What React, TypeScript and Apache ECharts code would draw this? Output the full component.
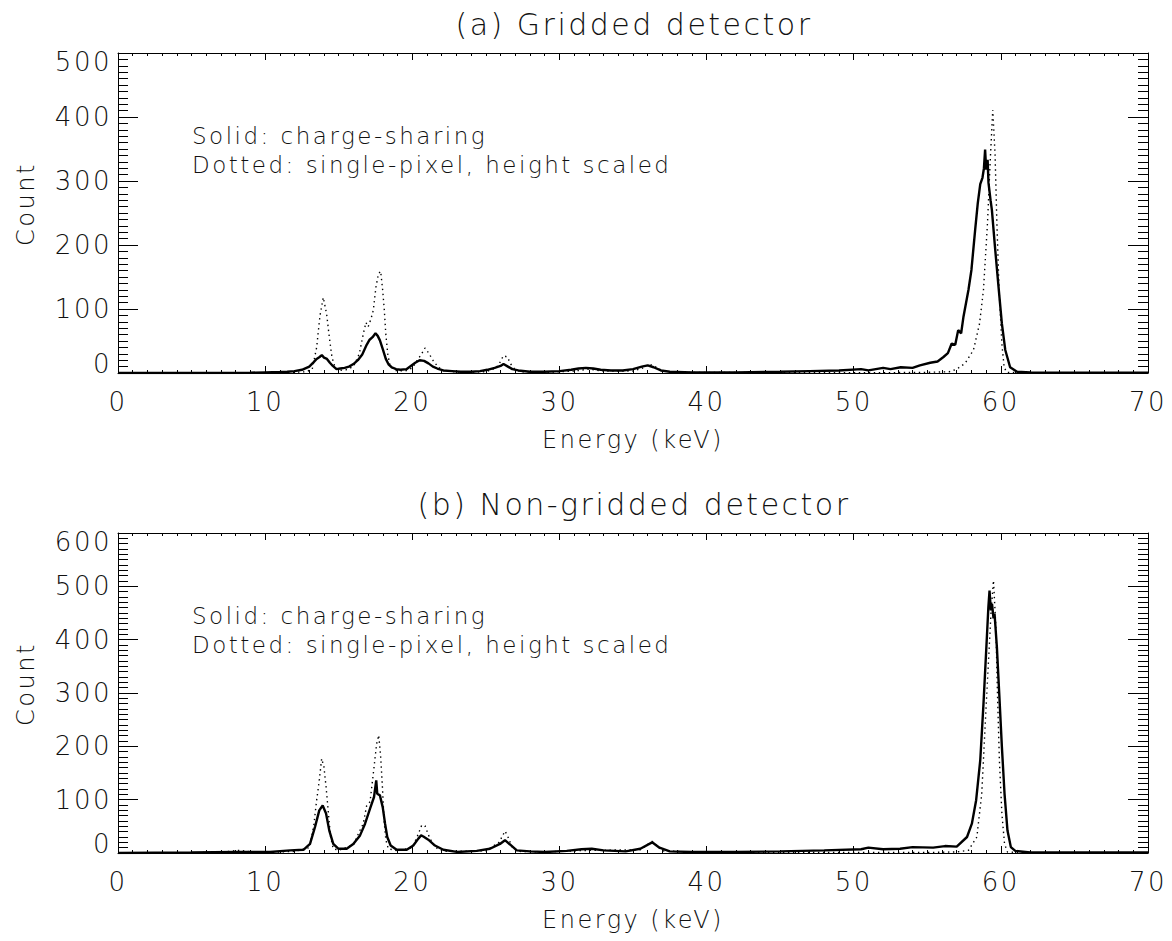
import React, { useEffect, useRef } from "react";
import * as echarts from "echarts";

// ---------- Data ----------
// Panel (a) Gridded detector
const topSolidEnergy = [0, 5, 9, 10, 11, 11.5, 12, 12.5, 13, 13.3, 13.5, 13.7, 13.85, 14.0, 14.2, 14.4, 14.6, 14.85, 15.1, 15.4, 15.7, 16.0, 16.3, 16.6, 16.9, 17.1, 17.3, 17.5, 17.65, 17.8, 18.0, 18.2, 18.4, 18.6, 18.9, 19.2, 19.6, 19.9, 20.2, 20.5, 20.8, 21.1, 21.4, 21.7, 22.1, 22.7, 23.3, 24.0, 24.6, 25.1, 25.6, 26.0, 26.2, 26.5, 26.8, 27.2, 28.0, 29.0, 30.0, 30.8, 31.3, 31.8, 32.3, 32.8, 33.5, 34.3, 35.0, 35.6, 36.0, 36.4, 36.9, 37.5, 39.0, 42.0, 45.0, 47.0, 49.0, 50.5, 51.0, 52.0, 52.5, 53.2, 54.0, 54.5, 55.2, 55.7, 56.1, 56.4, 56.66, 56.9, 57.1, 57.3, 57.46, 57.8, 58.0, 58.25, 58.43, 58.6, 58.75, 58.85, 58.93, 59.0, 59.1, 59.16, 59.3, 59.39, 59.6, 59.84, 60.07, 60.3, 60.63, 61.1, 62, 65, 70];
const topSolidCount = [0, 0, 0.5, 1, 1.5, 2, 3, 5, 10, 17, 22, 25, 28, 24, 22, 16, 11, 6, 7, 8, 10, 14, 20, 29, 44, 52, 56, 62, 58, 51, 37, 22, 13, 9, 6, 5, 6, 11, 16, 20, 19, 15, 10, 7, 4, 3, 2, 2, 3, 5, 8, 11, 14, 10, 6, 4, 2, 2, 3, 5, 7, 8, 7, 5, 4, 4, 6, 10, 12, 9, 4, 2, 1, 1, 2, 3, 4, 6, 4, 8, 6, 9, 8, 12, 16, 18, 25, 31, 46, 44, 67, 62, 88, 130, 161, 223, 265, 295, 305, 320, 349, 318, 333, 297, 270, 255, 197, 135, 77, 36, 9, 2, 1, 0.5, 0.5];
const topDottedEnergy = [0, 10, 12, 12.8, 13.2, 13.5, 13.73, 13.95, 14.18, 14.36, 14.54, 14.75, 15.0, 15.5, 16.0, 16.4, 16.67, 16.85, 17.0, 17.2, 17.35, 17.53, 17.7, 17.85, 17.99, 18.1, 18.2, 18.33, 18.49, 18.8, 19.5, 20.0, 20.4, 20.64, 20.86, 21.09, 21.43, 21.77, 22.2, 23.5, 25.0, 25.7, 26.0, 26.19, 26.46, 26.69, 27.0, 27.5, 29.0, 31.0, 32.0, 33.0, 35.0, 35.7, 36.1, 36.5, 37.0, 38, 45, 52, 55, 56.5, 57.0, 57.57, 58.14, 58.55, 58.82, 59.09, 59.27, 59.45, 59.61, 59.73, 59.88, 60.07, 60.22, 60.4, 62, 70];
const topDottedCount = [0, 0.5, 1, 2, 6, 40, 90, 118, 92, 56, 25, 9, 4, 5, 10, 30, 61, 79, 72, 85, 98, 134, 155, 159, 129, 98, 61, 30, 11, 4, 3, 8, 22, 30, 39, 32, 19, 9, 3, 1, 2, 8, 18, 27, 25, 14, 5, 2, 1, 3, 6, 3, 3, 8, 14, 10, 3, 1, 0.5, 0.5, 1, 2, 6, 15, 36, 77, 130, 234, 328, 411, 339, 234, 130, 46, 9, 1, 0, 0];

// Panel (b) Non-gridded detector
const botSolidEnergy = [0, 5, 8, 10, 10.33, 11.7, 12.6, 13.05, 13.39, 13.68, 13.91, 14.14, 14.36, 14.63, 14.97, 15.54, 15.99, 16.45, 16.79, 17.13, 17.4, 17.55, 17.62, 17.8, 17.99, 18.15, 18.3, 18.53, 18.94, 19.62, 20.07, 20.41, 20.6, 20.75, 21.09, 21.54, 22.11, 23.02, 24.38, 25.28, 25.96, 26.3, 26.64, 27.1, 28.0, 29.0, 30.5, 31.5, 32.2, 33.0, 34.5, 35.5, 36.3, 36.8, 37.5, 39, 42, 45, 48, 50.5, 51, 52, 53.15, 54, 55.4, 56.2, 57.0, 57.7, 58.03, 58.32, 58.6, 58.82, 59.05, 59.15, 59.23, 59.32, 59.4, 59.5, 59.57, 59.73, 59.89, 60.07, 60.25, 60.45, 60.68, 60.98, 62, 70];
const botSolidCount = [0, 1, 2, 2, 2, 5, 6, 17, 49, 80, 89, 74, 42, 17, 8, 8, 17, 33, 55, 83, 105, 136, 111, 108, 86, 55, 30, 14, 6, 6, 14, 27, 33, 31, 25, 14, 6, 2, 4, 8, 17, 24, 16, 5, 3, 2, 4, 7, 8, 5, 3, 8, 20, 10, 3, 2, 2, 3, 5, 7, 10, 7, 8, 11, 10, 13, 12, 30, 55, 99, 174, 280, 405, 460, 492, 455, 467, 440, 449, 386, 299, 199, 111, 42, 11, 4, 1, 1];
const botDottedEnergy = [0, 7, 7.8, 8.3, 9, 10, 12, 13.0, 13.3, 13.5, 13.68, 13.84, 14.0, 14.14, 14.3, 14.45, 14.63, 15.0, 16.0, 16.4, 16.67, 16.9, 17.13, 17.4, 17.58, 17.72, 17.85, 17.97, 18.08, 18.21, 18.37, 19.0, 20.0, 20.4, 20.64, 20.86, 21.2, 21.6, 22.2, 25.0, 25.9, 26.3, 26.46, 26.8, 27.3, 29, 32, 35.5, 36.3, 37, 40, 50, 55, 57.0, 57.8, 58.37, 58.7, 58.93, 59.16, 59.34, 59.5, 59.66, 59.77, 59.9, 60.07, 60.25, 60.45, 62, 70];
const botDottedCount = [0, 1, 4, 5, 2, 1, 3, 10, 50, 99, 136, 177, 161, 124, 74, 30, 8, 5, 15, 40, 55, 89, 96, 161, 205, 221, 180, 124, 61, 24, 8, 4, 10, 35, 52, 51, 27, 10, 3, 4, 20, 41, 33, 10, 3, 2, 5, 6, 22, 4, 1, 1, 1, 2, 5, 30, 111, 236, 361, 455, 511, 424, 299, 174, 74, 17, 2, 0, 0];

const titles = ["(a) Gridded detector", "(b) Non-gridded detector"];
const legendLines = ["Solid: charge-sharing", "Dotted: single-pixel, height scaled"];
const xRange = [0, 70];
const yMaxes = [500, 600];

const pairs = (xs: number[], ys: number[]) => xs.map((x, i) => [x, ys[i]]);

const FONT = "'DejaVu Sans', sans-serif";
const FW = 200;
const TXT = "#111";

export default function App() {
  const ref = useRef<HTMLDivElement>(null);
  useEffect(() => {
    if (!ref.current) return;
    const chart = echarts.init(ref.current, undefined, { renderer: "svg" });
    const gridTops = [53, 533];
    const gridH = 320;
    const grids = gridTops.map((t) => ({ left: 118, top: t, width: 1030, height: gridH }));

    const xAxes: any[] = [];
    const yAxes: any[] = [];
    [0, 1].forEach((g) => {
      const baseX = {
        type: "value",
        gridIndex: g,
        min: xRange[0],
        max: xRange[1],
        interval: 10,
        splitLine: { show: false },
        axisLine: { show: true, onZero: false, lineStyle: { color: "#000", width: 1 } },
        axisTick: { show: true, inside: true, length: 7, lineStyle: { color: "#000" } },
        minorTick: { show: true, splitNumber: 10, length: 3, lineStyle: { color: "#000" } },
      };
      xAxes.push({
        ...baseX,
        position: "bottom",
        name: "Energy (keV)",
        nameLocation: "middle",
        nameGap: 55,
        nameTextStyle: { fontFamily: FONT, fontSize: 24, fontWeight: FW, color: TXT },
        axisLabel: { show: true, margin: 16, fontFamily: FONT, fontSize: 26, fontWeight: FW, color: TXT },
      });
      xAxes.push({ ...baseX, position: "top", axisLabel: { show: false } });
      const baseY = {
        type: "value",
        gridIndex: g,
        min: 0,
        max: yMaxes[g],
        interval: 100,
        splitLine: { show: false },
        axisLine: { show: true, onZero: false, lineStyle: { color: "#000", width: 1 } },
        axisTick: { show: true, inside: true, length: 20, lineStyle: { color: "#000" } },
        minorTick: { show: true, splitNumber: 10, length: 10, lineStyle: { color: "#000" } },
      };
      yAxes.push({
        ...baseY,
        position: "left",
        name: "Count",
        nameLocation: "middle",
        nameGap: 80,
        nameTextStyle: { fontFamily: FONT, fontSize: 24, fontWeight: FW, color: TXT, padding: [0, 0, 0, 18] },
        axisLabel: {
          show: true,
          margin: 6,
          fontFamily: FONT,
          fontSize: 26,
          fontWeight: FW,
          color: TXT,
          lineHeight: 18,
          verticalAlignMinLabel: "bottom",
          verticalAlignMaxLabel: "top",
        },
      });
      yAxes.push({ ...baseY, position: "right", axisLabel: { show: false } });
    });

    const series: any[] = [];
    const sets = [
      [topSolidEnergy, topSolidCount, topDottedEnergy, topDottedCount],
      [botSolidEnergy, botSolidCount, botDottedEnergy, botDottedCount],
    ];
    sets.forEach((s, g) => {
      series.push({
        type: "line",
        xAxisIndex: g * 2,
        yAxisIndex: g * 2,
        data: pairs(s[2], s[3]),
        showSymbol: false,
        symbol: "none",
        lineStyle: { color: "#000", width: 1.4, type: [1.4, 3.6] },
        z: 2,
      });
      series.push({
        type: "line",
        xAxisIndex: g * 2,
        yAxisIndex: g * 2,
        data: pairs(s[0], s[1]),
        showSymbol: false,
        symbol: "none",
        lineStyle: { color: "#000", width: 2.4 },
        z: 3,
      });
    });

    const graphics: any[] = [];
    gridTops.forEach((t) => {
      legendLines.forEach((line, i) => {
        graphics.push({
          type: "text",
          left: 192,
          top: t + 71 + i * 29,
          style: { text: line, font: `${FW} 23px ${FONT}`, fill: TXT },
        });
      });
    });

    chart.setOption({
      animation: false,
      backgroundColor: "#fff",
      title: titles.map((t, i) => ({
        text: t,
        left: 629,
        top: [4, 484][i],
        textAlign: "center",
        textStyle: { fontFamily: FONT, fontSize: 30, fontWeight: FW, color: TXT },
      })),
      grid: grids,
      xAxis: xAxes,
      yAxis: yAxes,
      series,
      graphic: graphics,
    });
    return () => chart.dispose();
  }, []);
  return (
    <>
      <style>{`#spectra-chart svg text { letter-spacing: 2.5px; }`}</style>
      <div
        id="spectra-chart"
        ref={ref}
        style={{ position: "fixed", left: 0, top: 0, width: 1172, height: 941, background: "#fff" }}
      />
    </>
  );
}
